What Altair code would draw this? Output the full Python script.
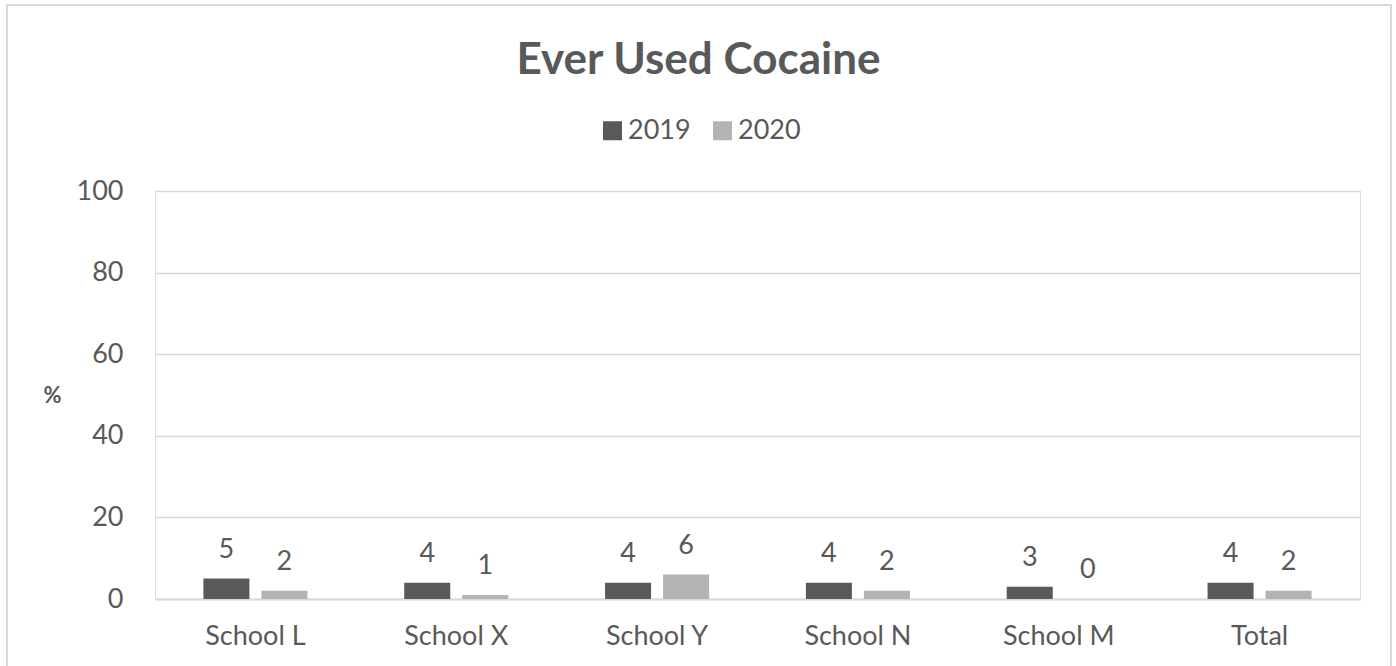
import altair as alt
import pandas as pd

categories = ["School L", "School X", "School Y", "School N", "School M", "Total"]
years = ["2019", "2020"]
values_2019 = [5, 4, 4, 4, 3, 4]
values_2020 = [2, 1, 6, 2, 0, 2]
y_ticks = [0, 20, 40, 60, 80, 100]
colors = ["#595959", "#b3b3b3"]

rows = []
for c, v19, v20 in zip(categories, values_2019, values_2020):
    rows.append({"School": c, "Year": years[0], "Pct": v19})
    rows.append({"School": c, "Year": years[1], "Pct": v20})
df = pd.DataFrame(rows)

FONT = "Lato"
TXT = "#595959"
GRID = "#d9d9d9"

x = alt.X(
    "School:N",
    sort=categories,
    scale=alt.Scale(paddingInner=0, paddingOuter=0),
    axis=alt.Axis(
        title=None, labelAngle=0, ticks=False, domainColor=GRID, domainWidth=2,
        labelFont=FONT, labelFontSize=27, labelColor=TXT, labelPadding=24,
    ),
)
xo = alt.XOffset("Year:N", sort=years, scale=alt.Scale(paddingInner=0.207, paddingOuter=0.834))
y = alt.Y(
    "Pct:Q",
    scale=alt.Scale(domain=[0, 100]),
    axis=alt.Axis(
        values=y_ticks, title="%", titleAngle=0, titleX=-103, titleY=204,
        titleAlign="center", titleBaseline="middle", titleFont=FONT,
        titleFontSize=22, titleFontWeight="bold", titleColor=TXT,
        domain=False, ticks=False, labelFont=FONT, labelFontSize=27,
        labelColor=TXT, labelPadding=32, gridColor=GRID, gridWidth=1.5,
    ),
)
color = alt.Color(
    "Year:N",
    sort=years,
    scale=alt.Scale(domain=years, range=colors),
    legend=alt.Legend(
        title=None, orient="none", direction="horizontal", legendX=444, legendY=-74,
        padding=0, symbolType="square", symbolSize=361, symbolStrokeWidth=0,
        labelFont=FONT, labelFontSize=27, labelColor=TXT, labelOffset=2,
        columnPadding=18,
    ),
)

base = alt.Chart(df).encode(x=x, xOffset=xo, y=y)
bars = base.mark_bar().encode(color=color)
labels = base.mark_text(
    font=FONT, fontSize=27, color=TXT, baseline="alphabetic", dy=-21
).encode(text=alt.Text("Pct:Q"))

border = alt.Chart(pd.DataFrame({"a": [0]})).mark_rect(
    fill=None, stroke=GRID, strokeWidth=2
).encode(
    x=alt.value(-148), x2=alt.value(1236), y=alt.value(-186), y2=alt.value(700)
)

chart = alt.layer(border, bars, labels).properties(
    width=1205,
    height=408,
    autosize=alt.AutoSizeParams(type="none"),
    padding={"left": 155, "top": 191, "right": 36, "bottom": 67},
    title=alt.TitleParams(
        "Ever Used Cocaine", font=FONT, fontSize=44, fontWeight="bold", color=TXT,
        anchor="middle", frame="group", dx=-59, offset=-114, baseline="alphabetic",
    ),
).configure_view(stroke=None).configure(background="white")

chart.save("out.html", embed_options={"renderer": "svg", "actions": False})
